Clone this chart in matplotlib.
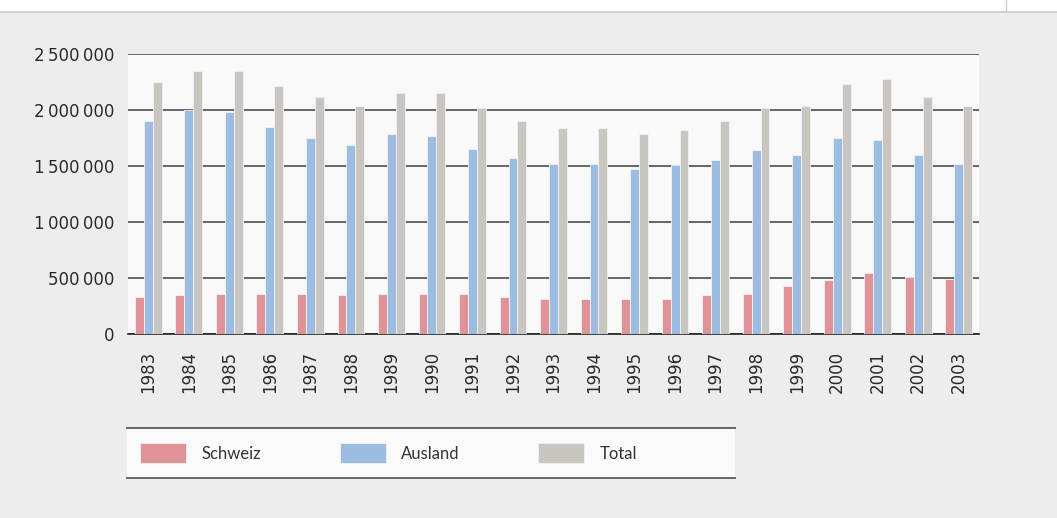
"""
Bar chart: Schweiz / Ausland / Total per year, 1983-2003.
Writes out.png.
"""

import matplotlib.pyplot as plt
import matplotlib.lines as mlines
import matplotlib.patches as mpatches
import numpy as np

# ── Data ──────────────────────────────────────────────────────────────────────

years = [1983, 1984, 1985, 1986, 1987, 1988, 1989, 1990, 1991, 1992, 1993,
         1994, 1995, 1996, 1997, 1998, 1999, 2000, 2001, 2002, 2003]

schweiz = [330000, 345000, 360000, 360000, 360000, 345000, 360000, 360000,
           360000, 330000, 310000, 310000, 310000, 310000, 345000, 360000,
           430000, 480000, 545000, 510000, 490000]

ausland = [1900000, 2000000, 1980000, 1850000, 1750000, 1690000, 1790000,
           1770000, 1650000, 1570000, 1520000, 1520000, 1470000, 1510000,
           1550000, 1640000, 1600000, 1750000, 1730000, 1600000, 1520000]

total = [2250000, 2350000, 2350000, 2210000, 2120000, 2040000, 2150000,
         2150000, 2020000, 1900000, 1840000, 1840000, 1790000, 1820000,
         1900000, 2020000, 2040000, 2230000, 2280000, 2120000, 2040000]

yticks = [0, 500000, 1000000, 1500000, 2000000, 2500000]

SERIES = [
    ("Schweiz", schweiz, "#df9397"),
    ("Ausland", ausland, "#9dbce2"),
    ("Total",   total,   "#c9c6c2"),
]


def fmt_thousands(v):
    return f"{v:,}".replace(",", "\u2009")


# ── Plot ──────────────────────────────────────────────────────────────────────

plt.rcParams.update({
    "font.family": ["DejaVu Sans"],
    "font.size": 12,
})

W, H = 1057, 518
fig = plt.figure(figsize=(W / 100, H / 100), dpi=100, facecolor="#ededed")

# white strip at the top with a thin border line
fig.patches.append(mpatches.Rectangle((0, 1 - 11 / H), 1, 11 / H,
                                      transform=fig.transFigure,
                                      facecolor="white", edgecolor="none"))
fig.lines.append(mlines.Line2D([0, 1], [1 - 11.5 / H] * 2,
                               transform=fig.transFigure,
                               color="#cccccc", lw=1.2))
fig.lines.append(mlines.Line2D([1006 / W] * 2, [1 - 11 / H, 1],
                               transform=fig.transFigure,
                               color="#cccccc", lw=1.0))

ax = fig.add_axes([128 / W, 184 / H, 851 / W, 280 / H])
ax.set_facecolor("#f9f9f9")

x = np.arange(len(years))
width = 0.22
offsets = [-width, 0, width]

handles = []
for off, (label, vals, color) in zip(offsets, SERIES):
    bars = ax.bar(x + off, vals, width, color=color, edgecolor="#f2f2f2",
                  linewidth=0.6, label=label, zorder=3)
    handles.append(bars)

ax.set_xlim(-0.5, len(years) - 0.5)
ax.set_ylim(0, 2500000)
ax.set_yticks(yticks)
ax.set_yticklabels([fmt_thousands(v) for v in yticks], color="#2a2a2a")
ax.set_xticks(x)
ax.set_xticklabels([str(y) for y in years], rotation=90, color="#2a2a2a")
ax.tick_params(axis="both", length=0)
ax.tick_params(axis="y", pad=10)
ax.tick_params(axis="x", pad=12)

ax.grid(True, axis="y", color="#666666", lw=1.4, zorder=1)
ax.set_axisbelow(True)
for side in ["top", "right", "left"]:
    ax.spines[side].set_visible(False)
ax.spines["bottom"].set_color("#222222")
ax.spines["bottom"].set_linewidth(1.2)

# legend strip
lax = fig.add_axes([127 / W, 40 / H, 608 / W, 50 / H])
lax.set_facecolor("#fafafa")
lax.set_xticks([])
lax.set_yticks([])
for side in ["left", "right"]:
    lax.spines[side].set_visible(False)
for side in ["top", "bottom"]:
    lax.spines[side].set_color("#666666")
    lax.spines[side].set_linewidth(1.4)

leg = lax.legend(handles=handles, loc="center left", ncol=3, frameon=False,
                 handlelength=2.75, handleheight=1.4, handletextpad=0.9,
                 columnspacing=4.75, borderaxespad=0.4, borderpad=0.4,
                 prop={"family": ["Lato", "DejaVu Sans"], "size": 12})
for t in leg.get_texts():
    t.set_color("#333333")

fig.savefig("out.png", dpi=100, facecolor=fig.get_facecolor())
